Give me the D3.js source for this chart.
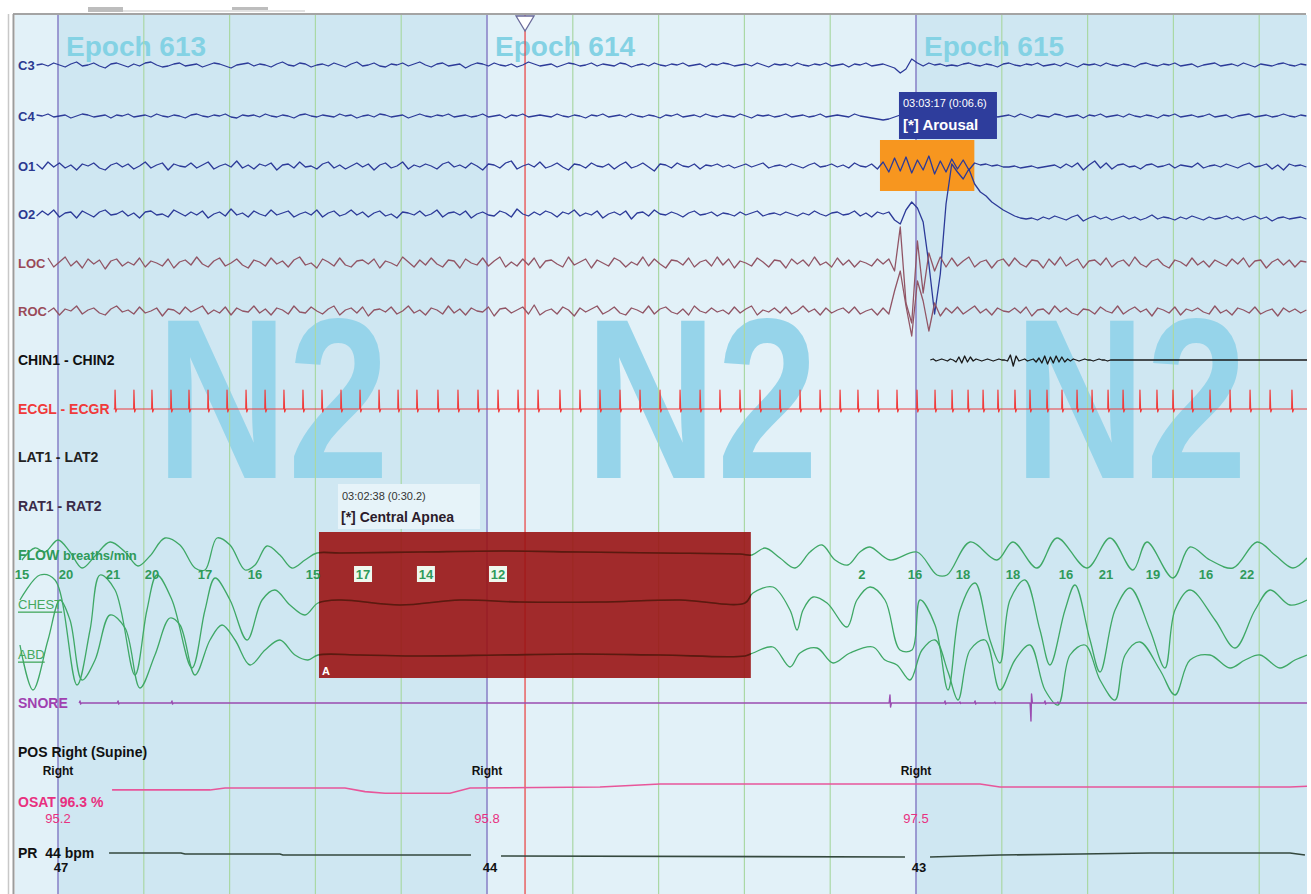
<!DOCTYPE html>
<html>
<head>
<meta charset="utf-8">
<script src="https://cdn.jsdelivr.net/npm/d3@7"></script>
<style>
body { margin: 0; background: #fff; }
svg { display: block; font-family: Arial, "Liberation Sans", sans-serif; }
</style>
</head>
<body>
<svg id="psg" width="1311" height="894"></svg>
<script>
// ---- data (time in seconds from the start of epoch 613) ----
var epochNumber = [612, 613, 614, 615];
var epochStart = [-30, 0, 30, 60];
var epochStage = ["", "N2", "N2", "N2"];
var cursorTime = 32.66;

// EEG / EOG, one sample every 0.4 s starting at -1.5 s
var eegStart = -1.5, eegStep = 0.4;
var c3Values = [0,1,-1,2,0,-2,1,3,-1,0, 2,-1,-3,1,2,0,-2,1,-1,2, 3,0,-2,-1,1,2,-1,0,1,-2, 0,2,1,-1,-3,0,1,2,-1,1,
  0,-2,1,3,0,-1,2,1,-2,0, 1,-1,2,0,-2,1,3,-1,0,2, -1,-2,1,0,2,-1,1,3,0,-2, 1,2,-1,0,1,-3,0,2,1,-1,
  2,0,-1,1,-2,0,3,1,-1,0, 1,-2,0,2,1,-1,0,2,-1,1, 0,-1,2,1,-2,0,1,-1,2,0, -1,1,0,2,-1,0,1,-2,1,0,
  2,1,-1,0,1,-1,2,0,-2,1, 0,1,-1,2,0,-1,1,0,2,-1, 0,1,-2,1,0,2,-1,0,1,-1, -3,-8,-4,6,2,-1,2,0,1,-1,
  0,-1,1,2,0,-1,1,0,-2,1, 2,0,-1,1,0,2,-1,0,1,-1, 2,0,-2,1,0,1,-1,2,0,-1, 1,0,-2,1,2,0,-1,1,0,2,
  -1,0,1,-2,0,1,2,-1,0,1, -1,2,0,-2,1,0,-1,1,2,0, -1,1,0];
var c4Values = [1,0,2,-1,0,1,-2,0,2,1, -1,0,1,-2,1,0,2,-1,0,1, -1,2,0,-1,1,0,-2,1,2,0, -1,1,0,2,-1,-2,1,0,1,-1,
  2,0,-1,1,0,-2,1,2,0,-1, 1,0,-1,2,0,1,-2,0,1,-1, 2,1,-1,0,1,-2,0,2,0,-1, 1,0,2,-1,0,1,-1,0,2,-1,
  0,1,-2,1,0,2,-1,0,1,0, -1,2,0,-1,1,0,-2,1,0,2, -1,0,1,-1,2,0,-1,1,0,-2, 1,0,2,-1,0,1,-1,2,0,-1,
  1,0,-1,2,0,-2,1,0,1,-1, 0,2,-1,0,1,-1,0,2,-1,0, 1,0,-1,2,0,-1,-2,-3,-4,-3, -1,1,3,0,-2,2,1,-1,0,2,
  -1,0,1,-1,2,0,-1,3,-1,0, 1,-1,2,0,-2,1,0,-1,2,1, -1,0,1,-2,1,0,2,-1,0,1, -1,2,0,-1,1,0,-2,1,0,2,
  -1,0,1,-1,0,2,-1,0,1,-2, 0,1,2,-1,0,1,-1,0,2,0, -1,1,0];
var o1Values = [2,-3,4,-1,3,-2,1,-4,2,0, 3,-2,-4,1,3,-1,2,-3,0,4, -2,1,3,-4,2,0,-1,3,-2,1, 4,-3,0,2,-1,5,-2,1,-3,2,
  0,3,-4,1,2,-2,4,-1,0,-3, 2,4,-2,1,-3,0,3,-1,2,-4, 1,3,-2,0,4,-3,1,-1,2,0, -3,2,4,-1,1,-2,3,0,-4,2,
  1,-2,3,5,-3,0,2,-1,4,-2, 0,3,-1,-4,2,1,-2,3,0,-1, 2,-3,1,4,-2,0,3,-1,-5,2, 1,-2,3,0,-1,2,-3,1,0,2,
  -1,1,-2,0,2,-1,1,3,-2,0, 1,-1,2,0,-2,1,3,-1,0,2, -1,1,-2,3,0,-1,2,-3,4,-6, 8,-5,9,-7,6,-4,10,-8,5,-6,
  7,-3,6,-4,3,1,2,0,1,-1, -1,0,-2,-1,0,-2,-1,0,1,-2, 2,-1,3,-4,1,5,-2,3,-3,1, 2,-1,0,-3,1,2,-1,0,2,-2,
  1,0,-1,3,-2,0,1,-1,2,0, -2,1,3,-1,0,2,-3,1,-4,2, 0,1,-1];
var o2Values = [-2,3,-1,4,-3,1,2,-4,3,0, -3,2,4,-1,0,3,-2,1,-4,2, 3,-1,0,-3,4,1,-2,2,-1,3, -4,0,2,-2,5,-1,1,-3,3,0,
  -2,4,-1,1,3,-3,0,2,-1,4, -3,1,3,-2,0,4,-1,2,-3,1, 3,-2,0,-4,2,1,-1,3,-2,0, 4,-3,1,2,-1,3,-4,0,2,-1,
  -2,3,1,-3,5,0,-2,2,-1,3, 1,-3,2,0,4,-2,1,-1,3,-4, 0,2,-1,3,-5,1,2,-2,4,0, -1,2,0,-3,1,3,-1,0,2,-2,
  1,0,-2,2,-1,1,3,-2,0,1, -1,2,0,-2,1,-1,3,0,-2,1, 2,-1,0,3,-2,1,-3,2,0,2, -6,-10,4,12,6,-8,-50,-100,-60,10,
  50,42,35,45,30,22,18,12,8,4, 1,-2,-4,-5,-4,-6,-3,-5,-2,-4, -6,-3,-1,-7,-4,-2,-5,-3,-6,-4, -2,-5,-3,-6,-4,-1,-5,-3,-4,-6,
  -3,-5,-2,-4,-6,-3,-5,-4,-2,-5, -3,-6,-4,-2,-5,-3,-7,-4,-3,-5, -4,-3,-5];
var locValues = [3,-2,5,-4,1,6,-3,2,-5,4, -1,3,-6,2,4,-3,1,-2,5,-4, 2,0,-3,4,-5,1,3,-2,6,-1, -4,2,5,-3,0,4,-2,-5,3,1,
  -3,5,-1,2,-4,3,6,-2,0,-5, 4,1,-3,5,-2,-4,2,3,-1,4, -5,2,0,-3,6,1,-4,3,-2,5, -1,-4,3,2,-5,4,0,-2,5,-3,
  2,6,-4,1,-3,4,-2,5,-5,2, 3,-1,-4,6,-2,1,4,-5,3,0, -3,5,2,-4,1,-2,6,-3,4,-1, -5,3,2,-2,5,-4,1,3,-3,6,
  -2,4,-5,2,0,-3,5,1,-4,3, 2,-5,4,-1,3,-3,6,-2,1,-4, 5,-2,3,-4,2,0,-3,4,-1,4, -8,36,-40,-60,22,-30,10,-8,6,-4,
  5,-3,2,6,-4,1,3,-5,2,4, -3,5,-1,-4,3,2,-5,4,-2,6, -3,1,4,-5,2,3,-2,5,-4,1, 3,-3,6,-1,-4,2,4,-2,-5,3,
  1,-3,5,-2,2,-4,3,0,-3,4, -1,5,-4,2,3,-5,1,4,-2,3, -4,2,1];
var rocValues = [-2,4,-1,3,-4,2,0,5,-3,1, 3,-2,-4,2,5,-1,1,-3,4,-2, 0,3,-5,2,1,-3,4,-1,2,5, -3,1,-2,4,-4,3,0,-1,5,-2,
  2,-4,3,1,-3,5,-1,-2,4,0, -3,2,5,-4,1,3,-2,4,-5,1, 2,-1,4,-3,0,5,-2,1,-4,3, 1,-3,5,-2,2,-4,3,0,-1,4,
  -5,2,3,-2,1,4,-3,6,-4,0, 2,-3,4,1,-5,3,-1,2,5,-3, 0,4,-2,-4,3,1,-2,5,-3,2, 4,-1,-3,2,-4,5,0,-2,3,-1,
  1,-3,4,-2,2,5,-4,1,-1,3, -2,4,-3,0,5,-1,2,-4,3,-2, 1,3,-2,4,-3,0,2,-4,3,-3, 20,40,5,-25,30,10,-20,8,-5,3,
  -2,4,-3,1,5,-2,2,-4,3,0, -1,3,-2,4,-5,1,2,-3,5,-1, 3,-2,-4,2,1,-3,4,0,-2,5, -3,1,4,-1,2,-5,3,1,-2,4,
  -4,2,0,3,-1,-3,5,-2,1,-4, 3,1,-2,4,-3,0,2,-5,3,-1, 2,-2,1];

// chin EMG burst, one sample every 0.2 s from 61 s (flat elsewhere)
var chinStart = 61, chinStep = 0.2;
var chinValues = [0,1,-1,0,1,0,-1,1,0,-2, 3,-3,4,-2,3,-1,1,0,-1,0, 1,0,-1,0,1,0,0,-1,5,-6,
  4,-1,0,1,-1,0,1,-2,2,-3, 4,-4,3,-3,4,-2,3,-2,1,-1, 1,0,-1,0,1,0,0,-1,0,1, 0,0,-1,0,0];

// ECG R-peak times
var ecgBeatTime = [3.99,5.31,6.57,7.90,9.16,10.49,11.82,13.15,14.48,15.80,17.13,18.46,19.79,21.12,22.45,23.78,25.10,26.57,
  27.97,29.37,30.77,32.17,33.57,35.10,36.50,37.90,39.30,40.70,42.10,43.50,44.90,46.29,47.69,49.09,50.49,51.89,53.29,54.69,
  55.94,57.34,58.67,60.07,61.33,62.52,63.64,64.69,65.73,66.92,67.97,69.16,70.21,71.26,72.31,73.43,74.48,75.66,76.85,
  77.97,79.30,80.56,81.96,83.36,84.76,86.29];

// respiratory channels, points
var flowTime = [-2.52,-1.61,-0.91,0.00,0.84,1.68,2.59,3.64,4.69,5.59,6.43,7.48,8.53,9.58,10.28,11.12,12.03,13.08,13.78,14.62,
  15.52,16.36,17.27,18.11,19.72,25.31,30.91,36.50,42.10,47.69,48.53,49.44,50.49,51.54,52.59,53.43,54.34,55.24,56.08,56.78,
  58.18,60.07,61.47,62.17,63.78,65.66,66.78,68.46,69.86,71.96,73.57,75.17,76.15,77.97,79.16,80.56,82.17,83.85,85.10,86.36,87.34];
var flowValue = [-5,7,3,15,3,-13,-1,13,3,-11,-1,17,10,-13,-15,17,10,-15,-10,9,
  0,-13,-5,2,2,3,4,3,2,1,0,7,-3,-13,3,10,-5,-10,3,8,
  -5,3,-20,-20,13,-5,13,-13,17,-13,17,-15,13,-23,8,-5,-13,13,0,-13,-3];
var chestTime = [-2.66,-1.26,-0.21,1.33,2.24,2.94,3.99,5.38,6.22,6.92,7.97,9.37,10.28,10.98,12.03,13.22,14.27,15.17,16.22,17.27,18.18,
  19.72,23.92,28.11,32.31,37.90,43.50,48.04,
  48.60,50.00,51.19,51.68,52.10,52.80,53.78,55.17,55.87,56.78,57.83,58.88,59.72,60.28,61.33,62.24,63.08,64.13,65.17,65.87,
  66.57,67.62,68.67,69.37,70.42,71.12,72.17,72.87,73.92,74.97,76.36,77.41,78.11,79.16,80.91,82.31,83.71,84.76,86.15,87.34];
var chestValue = [5,30,25,-80,-25,30,15,-70,-5,30,5,-63,-5,27,5,-35,5,15,0,-10,2,
  5,0,5,3,3,5,2,
  12,18,-5,-25,-5,8,2,-22,5,18,5,-45,-45,5,-20,-85,-5,22,-35,-58,
  5,25,-25,-60,-5,20,-35,-67,-5,17,-25,-63,-5,15,-15,-43,-5,15,0,5];
var abdTime = [-2.66,-1.75,-0.70,0.14,0.84,1.68,2.59,3.64,4.69,5.73,6.78,7.83,8.53,9.58,10.63,11.47,12.38,13.43,14.48,15.52,16.57,17.48,18.18,
  21.12,25.31,30.91,36.50,42.10,48.04,
  48.60,50.00,51.19,51.89,53.08,54.20,55.38,56.99,57.83,58.67,59.58,60.42,61.33,62.24,62.94,63.78,64.83,65.87,66.92,67.97,
  69.02,69.93,70.77,71.82,72.87,73.92,74.62,75.66,77.06,78.11,79.16,80.56,81.96,83.01,84.06,85.45,86.50,87.34];
var abdValue = [5,-40,10,50,30,-30,-10,35,22,-38,-5,32,25,-25,10,25,10,-15,0,10,-5,-10,-5,
  -5,-6,-5,-4,-5,-6,
  -3,3,-17,-3,2,-13,-3,3,-10,-15,-30,0,10,-22,-50,0,10,-40,-10,5,
  -40,-55,-5,5,-30,-50,-5,8,-20,-45,-10,-5,-18,-10,-5,-18,-10,-5];

var breathTime = [-2.52,0.56,3.85,6.57,10.28,13.78,17.83,21.33,25.73,30.77,56.22,59.93,63.29,66.78,70.49,73.29,76.57,80.28,83.15];
var breathRate = [15,20,21,20,17,16,15,17,14,12,2,16,18,18,16,21,19,16,22];

var snoreTime = [1.54,4.20,7.97,58.18,62.03,63.08,64.13,65.52,68.04,69.02,69.93];
var snoreAmp = [2,2,2,8,2,1,2,1,-18,2,1];

var osatTime = [3.78,10.63,11.68,20.07,21.47,22.87,27.41,28.81,37.90,42.10,64.48,65.87,86.15,87.41];
var osatValue = [94.8,94.8,95.7,95.7,94.0,93.2,93.2,95.7,96.2,97.6,97.6,96.2,96.2,96.6];

var prTime = [3.57,8.60,8.88,15.52,15.73,28.88,29.9,30.98,59.23,60.1,60.98,65.87,71.47,76.36,86.15,87.20];
var prValue = [47,47,46,46,45,45,null,44,43,null,43,45,46,47,47,45];

var markTime = [0, 30, 60];
var posMark = ["Right", "Right", "Right"];
var osatMark = ["95.2", "95.8", "97.5"];
var prMark = ["47", "44", "43"];

var eventName = ["Central Apnea", "Arousal"];
var eventClock = ["03:02:38", "03:03:17"];
var eventDur = ["0:30.2", "0:06.6"];
var eventStart = [18.25, 57.48];
var eventLength = [30.2, 6.6];

// ---- drawing ----
var plotLeft = 15, plotRight = 1307, plotTop = 15, plotBottom = 894;
var x = d3.scaleLinear().domain([0, 30]).range([58, 487]);

var svg = d3.select("#psg");
svg.append("rect").attr("width", 1311).attr("height", 894).attr("fill", "#fff");

var defs = svg.append("defs");
defs.append("clipPath").attr("id", "plot").append("rect")
    .attr("x", plotLeft).attr("y", plotTop)
    .attr("width", plotRight - plotLeft).attr("height", plotBottom - plotTop);

var bg = svg.append("g").attr("clip-path", "url(#plot)");
var traces = svg.append("g").attr("clip-path", "url(#plot)");
var overlay = svg.append("g").attr("clip-path", "url(#plot)");
var labels = svg.append("g");
var chrome = svg.append("g");

// epochs
bg.selectAll("rect.epoch").data(epochStart).enter().append("rect")
    .attr("x", function(d) { return x(d); })
    .attr("y", plotTop)
    .attr("width", x(30) - x(0))
    .attr("height", plotBottom - plotTop)
    .attr("fill", function(d, i) { return i % 2 ? "#cfe7f2" : "#e2f1f8"; });

epochStart.forEach(function(s, i) {
    if (!epochStage[i]) return;
    bg.append("text")
        .attr("transform", "translate(" + x(s + 15) + ",478) scale(0.8,1)")
        .attr("text-anchor", "middle")
        .attr("font-size", 228).attr("font-weight", "bold")
        .attr("fill", "#96d4ea")
        .text(epochStage[i]);
    bg.append("text")
        .attr("x", x(s) + 8).attr("y", 56)
        .attr("font-size", 28).attr("font-weight", "bold")
        .attr("fill", "#84d2e4")
        .text("Epoch " + epochNumber[i]);
});

var gridTimes = d3.range(-30, 91, 6);
bg.selectAll("line.grid").data(gridTimes).enter().append("line")
    .attr("x1", function(d) { return x(d); })
    .attr("x2", function(d) { return x(d); })
    .attr("y1", plotTop).attr("y2", plotBottom)
    .attr("stroke", function(d) { return d % 30 === 0 ? "#8c86c8" : "#aad8a5"; })
    .attr("stroke-width", function(d) { return d % 30 === 0 ? 1.6 : 1.2; });

bg.append("line")
    .attr("x1", x(cursorTime)).attr("x2", x(cursorTime))
    .attr("y1", plotTop).attr("y2", plotBottom)
    .attr("stroke", "#ea4a4a").attr("stroke-width", 1.3);

// arousal highlight sits under the EEG
bg.append("rect")
    .attr("x", x(eventStart[1])).attr("y", 140)
    .attr("width", x(eventStart[1] + eventLength[1]) - x(eventStart[1]))
    .attr("height", 51)
    .attr("fill", "#f7961f");

// channel labels
var chan = [
    {id: "C3", text: "C3", y: 65, color: "#2b3990"},
    {id: "C4", text: "C4", y: 116, color: "#2b3990"},
    {id: "O1", text: "O1", y: 166, color: "#2b3990"},
    {id: "O2", text: "O2", y: 214, color: "#2b3990"},
    {id: "LOC", text: "LOC", y: 263, color: "#9a4a58"},
    {id: "ROC", text: "ROC", y: 311, color: "#9a4a58"},
    {id: "CHIN", text: "CHIN1 - CHIN2", y: 360, color: "#111"},
    {id: "ECG", text: "ECGL - ECGR", y: 409, color: "#f03a3a"},
    {id: "LAT", text: "LAT1 - LAT2", y: 457, color: "#222"},
    {id: "RAT", text: "RAT1 - RAT2", y: 506, color: "#3a2a48"},
    {id: "SNORE", text: "SNORE", y: 703, color: "#a040b0"},
    {id: "POS", text: "POS Right (Supine)", y: 752, color: "#111"},
    {id: "OSAT", text: "OSAT 96.3 %", y: 802, color: "#e8307f"},
    {id: "PR", text: "PR  44 bpm", y: 853, color: "#111"}
];
var labelEnd = {};
chan.forEach(function(c) {
    var t = labels.append("text")
        .attr("x", 18).attr("y", c.y)
        .attr("dominant-baseline", "central")
        .attr("font-size", c.text.length > 3 ? 14 : 13).attr("font-weight", "bold")
        .attr("fill", c.color)
        .style("white-space", "pre")
        .text(c.text);
    labelEnd[c.id] = 18 + t.node().getComputedTextLength() + 1;
});
var flowLabel = labels.append("text").attr("x", 18).attr("y", 555)
    .attr("dominant-baseline", "central").attr("font-weight", "bold").attr("fill", "#2f9a5a");
flowLabel.append("tspan").attr("font-size", 14).text("FLOW ");
flowLabel.append("tspan").attr("font-size", 13).text("breaths/min");
[["CHEST", 604], ["ABD", 654]].forEach(function(l) {
    labels.append("text").attr("x", 18).attr("y", l[1])
        .attr("dominant-baseline", "central")
        .attr("font-size", 13).attr("fill", "#45a85e")
        .attr("text-decoration", "underline")
        .text(l[0]);
});

function sampled(values, t0, dt) {
    return values.map(function(v, i) { return [t0 + i * dt, v]; });
}
function paired(ts, vs) {
    return ts.map(function(t, i) { return [t, vs[i]]; });
}
function drawTrace(layer, pts, yc, span, color, width, fromX, curve) {
    var y = d3.scaleLinear().domain([-span, span]).range([yc + span, yc - span]);
    var line = d3.line()
        .defined(function(d) { return d[1] !== null; })
        .x(function(d) { return x(d[0]); })
        .y(function(d) { return y(d[1]); })
        .curve(curve || d3.curveLinear);
    var p = pts.filter(function(d) { return x(d[0]) >= fromX; });
    return layer.append("path").datum(p)
        .attr("d", line)
        .attr("fill", "none")
        .attr("stroke", color)
        .attr("stroke-width", width)
        .attr("stroke-linejoin", "round");
}

// EEG / EOG
var eeg = [[c3Values, 65, "#2c3a98", "C3"], [c4Values, 116, "#2c3a98", "C4"],
           [o1Values, 166, "#2c3a98", "O1"], [o2Values, 214, "#2c3a98", "O2"],
           [locValues, 263, "#915565", "LOC"], [rocValues, 311, "#915565", "ROC"]];
eeg.forEach(function(e) {
    drawTrace(traces, sampled(e[0], eegStart, eegStep), e[1], 10, e[2], 1.3, labelEnd[e[3]]);
});

// chin
var chinPts = [[-3, 0]].concat(sampled(chinValues, chinStart, chinStep), [[90, 0]]);
drawTrace(traces, chinPts, 360, 10, "#1a1a1a", 1.3, labelEnd.CHIN);

// ECG
var ecgPts = [[-3, 0]];
ecgBeatTime.forEach(function(r) {
    ecgPts.push([r - 0.1, 0], [r - 0.02, 0], [r, 19], [r + 0.05, -3], [r + 0.12, 0]);
});
ecgPts.push([90, 0]);
drawTrace(traces, ecgPts, 409, 20, "#f03c3c", 1.2, labelEnd.ECG);

// leg EMG (flat)
drawTrace(traces, [[-3, 0], [90, 0]], 457, 10, "#2a2a30", 1.6, labelEnd.LAT);
drawTrace(traces, [[-3, 0], [90, 0]], 506, 10, "#2e2a40", 1.6, labelEnd.RAT);

// respiration
var resp = [[paired(flowTime, flowValue), 555], [paired(chestTime, chestValue), 605], [paired(abdTime, abdValue), 650]];
resp.forEach(function(r) {
    drawTrace(traces, r[0], r[1], 100, "#3fa866", 1.3, 0, d3.curveCatmullRom);
});

// snore
var snorePts = [[-3, 0]];
snoreTime.forEach(function(t, i) {
    var a = snoreAmp[i];
    snorePts.push([t - 0.06, 0], [t, a], [t + 0.04, -a * 0.5], [t + 0.1, 0]);
});
snorePts.push([90, 0]);
drawTrace(traces, snorePts, 703, 20, "#9a4cb0", 1.4, labelEnd.SNORE);

// position
drawTrace(traces, [[-3, 0], [90, 0]], 752, 10, "#1a1a1a", 2.6, labelEnd.POS)
    .attr("stroke-dasharray", "7,3");

// oximetry and pulse
var ySat = d3.scaleLinear().domain([90, 100]).range([800, 779]);
traces.append("path").datum(paired(osatTime, osatValue))
    .attr("d", d3.line().x(function(d) { return x(d[0]); }).y(function(d) { return ySat(d[1]); }))
    .attr("fill", "none").attr("stroke", "#e8569a").attr("stroke-width", 1.6);
var yPr = d3.scaleLinear().domain([40, 50]).range([860, 850]);
traces.append("path").datum(paired(prTime, prValue))
    .attr("d", d3.line().defined(function(d) { return d[1] !== null; })
        .x(function(d) { return x(d[0]); }).y(function(d) { return yPr(d[1]); }))
    .attr("fill", "none").attr("stroke", "#34483e").attr("stroke-width", 1.7);

markTime.forEach(function(t, i) {
    var cx = Math.max(x(t), 54);
    labels.append("text").attr("x", cx).attr("y", 775).attr("text-anchor", "middle")
        .attr("font-size", 12).attr("font-weight", "bold").attr("fill", "#111").text(posMark[i]);
    labels.append("text").attr("x", cx).attr("y", 823).attr("text-anchor", "middle")
        .attr("font-size", 13).attr("fill", "#e8307f").text(osatMark[i]);
    labels.append("text").attr("x", cx + 3).attr("y", 872).attr("text-anchor", "middle")
        .attr("font-size", 13).attr("font-weight", "bold").attr("fill", "#111").text(prMark[i]);
});

// central apnea block
var a0 = eventStart[0], a1 = eventStart[0] + eventLength[0];
overlay.append("rect")
    .attr("x", x(a0)).attr("y", 532)
    .attr("width", x(a1) - x(a0)).attr("height", 146)
    .attr("fill", "#9a1414").attr("fill-opacity", 0.9);
defs.append("clipPath").attr("id", "apnea").append("rect")
    .attr("x", x(a0)).attr("y", 532).attr("width", x(a1) - x(a0)).attr("height", 146);
var inner = overlay.append("g").attr("clip-path", "url(#apnea)");
resp.forEach(function(r) {
    drawTrace(inner, r[0], r[1], 100, "#5a1a10", 1.6, 0, d3.curveCatmullRom);
});
overlay.append("text").attr("x", x(a0) + 3).attr("y", 675)
    .attr("font-size", 11).attr("font-weight", "bold").attr("fill", "#fff").text("A");

breathTime.forEach(function(t, i) {
    var boxed = t > a0 && t < a1;
    if (boxed) {
        overlay.append("rect").attr("x", x(t) - 9).attr("y", 566).attr("width", 18).attr("height", 16)
            .attr("fill", "#eef8ee");
    }
    overlay.append("text").attr("x", x(t)).attr("y", 579).attr("text-anchor", "middle")
        .attr("font-size", 13).attr("font-weight", "bold")
        .attr("fill", "#2f9a5a")
        .text(breathRate[i]);
});

// event labels
overlay.append("rect").attr("x", x(a0) + 19).attr("y", 484).attr("width", 142).attr("height", 45)
    .attr("fill", "#e6f3f9");
overlay.append("text").attr("x", x(a0) + 23).attr("y", 500)
    .attr("font-size", 11).attr("fill", "#333")
    .text(eventClock[0] + " (" + eventDur[0] + ")");
overlay.append("text").attr("x", x(a0) + 22).attr("y", 522)
    .attr("font-size", 14).attr("font-weight", "bold").attr("fill", "#2b1b2b")
    .text("[*] " + eventName[0]);

var r0 = eventStart[1];
overlay.append("rect").attr("x", x(r0) + 19).attr("y", 92).attr("width", 98).attr("height", 47)
    .attr("fill", "#2e3d9c");
overlay.append("text").attr("x", x(r0) + 23).attr("y", 107)
    .attr("font-size", 11).attr("fill", "#fff")
    .text(eventClock[1] + " (" + eventDur[1] + ")");
overlay.append("text").attr("x", x(r0) + 23).attr("y", 130)
    .attr("font-size", 15).attr("font-weight", "bold").attr("fill", "#fff")
    .text("[*] " + eventName[1]);

// cursor marker and frame
chrome.append("polygon")
    .attr("points", [[x(cursorTime) - 9, 16], [x(cursorTime) + 9, 16], [x(cursorTime), 31]].join(" "))
    .attr("fill", "#fff").attr("stroke", "#6a6a9a").attr("stroke-width", 1.3);
chrome.append("rect").attr("x", 88).attr("y", 7).attr("width", 35).attr("height", 5).attr("fill", "#bdbdbd");
chrome.append("rect").attr("x", 232).attr("y", 7).attr("width", 36).attr("height", 5).attr("fill", "#bdbdbd");
chrome.append("rect").attr("x", 123).attr("y", 10).attr("width", 182).attr("height", 2).attr("fill", "#e2e2e2");
chrome.append("line").attr("x1", 13).attr("x2", 1306).attr("y1", 14).attr("y2", 14)
    .attr("stroke", "#a4a4a4").attr("stroke-width", 2);
chrome.append("line").attr("x1", 8.5).attr("x2", 8.5).attr("y1", 14).attr("y2", 894)
    .attr("stroke", "#c8c8c8").attr("stroke-width", 1.5);
chrome.append("line").attr("x1", 13.5).attr("x2", 13.5).attr("y1", 14).attr("y2", 894)
    .attr("stroke", "#9c9c9c").attr("stroke-width", 2);
</script>
</body>
</html>
